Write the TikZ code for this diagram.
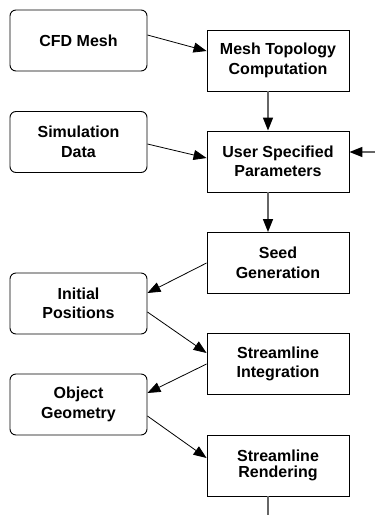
\documentclass[tikz,border=0pt]{standalone}
\usepackage{fontspec}
\setmainfont{Liberation Sans}
\usetikzlibrary{arrows.meta}
\begin{document}
\begin{tikzpicture}[x=1pt,y=-1pt,
  txt/.style={font=\fontsize{16}{19.5}\selectfont\bfseries, align=center, inner sep=0pt},
  rbox/.style={txt, draw=black, line width=0.9pt, rounded corners=6pt, minimum width=137pt, minimum height=61pt},
  sbox/.style={txt, draw=black, line width=0.9pt, minimum width=142pt, minimum height=61pt},
  tip/.style={-{Triangle[length=13pt,width=10pt,color=black]}},
  diag/.style={tip, draw=black, line width=0.8pt},
  vert/.style={tip, draw=black!60, line width=1.6pt},
  plain/.style={draw=black!60, line width=1.6pt}]
\useasboundingbox (0,0) rectangle (375,515);
\node[rbox] (cfd) at (78.5,40.5) {CFD Mesh};
\node[sbox] (mtc) at (278,60.5) {Mesh Topology\\Computation};
\node[rbox] (sim) at (78.5,142) {Simulation\\Data};
\node[sbox] (usp) at (278,161.5) {User Specified\\Parameters};
\node[sbox] (seed) at (278,263) {Seed\\Generation};
\node[rbox] (init) at (78.5,303.5) {Initial\\Positions};
\node[sbox] (si) at (278,364) {Streamline\\Integration};
\node[rbox] (og) at (78.5,404.5) {Object\\Geometry};
\node[sbox, font=\fontsize{16}{16}\selectfont\bfseries] (sr) at (278,465.5) {Streamline\\Rendering};
\coordinate (rin) at (375,152);
\coordinate (bout) at (268,515);
\draw[diag] ([yshift=5.5pt]cfd.east) -- ([yshift=9.5pt]mtc.west);
\draw[diag] ([yshift=-2pt]sim.east) -- ([yshift=3.5pt]usp.west);
\draw[diag] (seed.west) -- ([yshift=10.5pt]init.east);
\draw[diag] ([yshift=-8.5pt]init.east) -- ([yshift=11pt]si.west);
\draw[diag] (si.west) -- ([yshift=11.5pt]og.east);
\draw[diag] ([yshift=-11.5pt]og.east) -- ([yshift=7.5pt]sr.west);
\draw[vert] ([xshift=-10pt]mtc.south) -- ([xshift=-10pt]usp.north);
\draw[vert] ([xshift=-10pt]usp.south) -- ([xshift=-10pt]seed.north);
\draw[vert] (rin) -- ([yshift=9.5pt]usp.east);
\draw[plain] ([xshift=-10pt]sr.south) -- (bout);
\end{tikzpicture}
\end{document}
